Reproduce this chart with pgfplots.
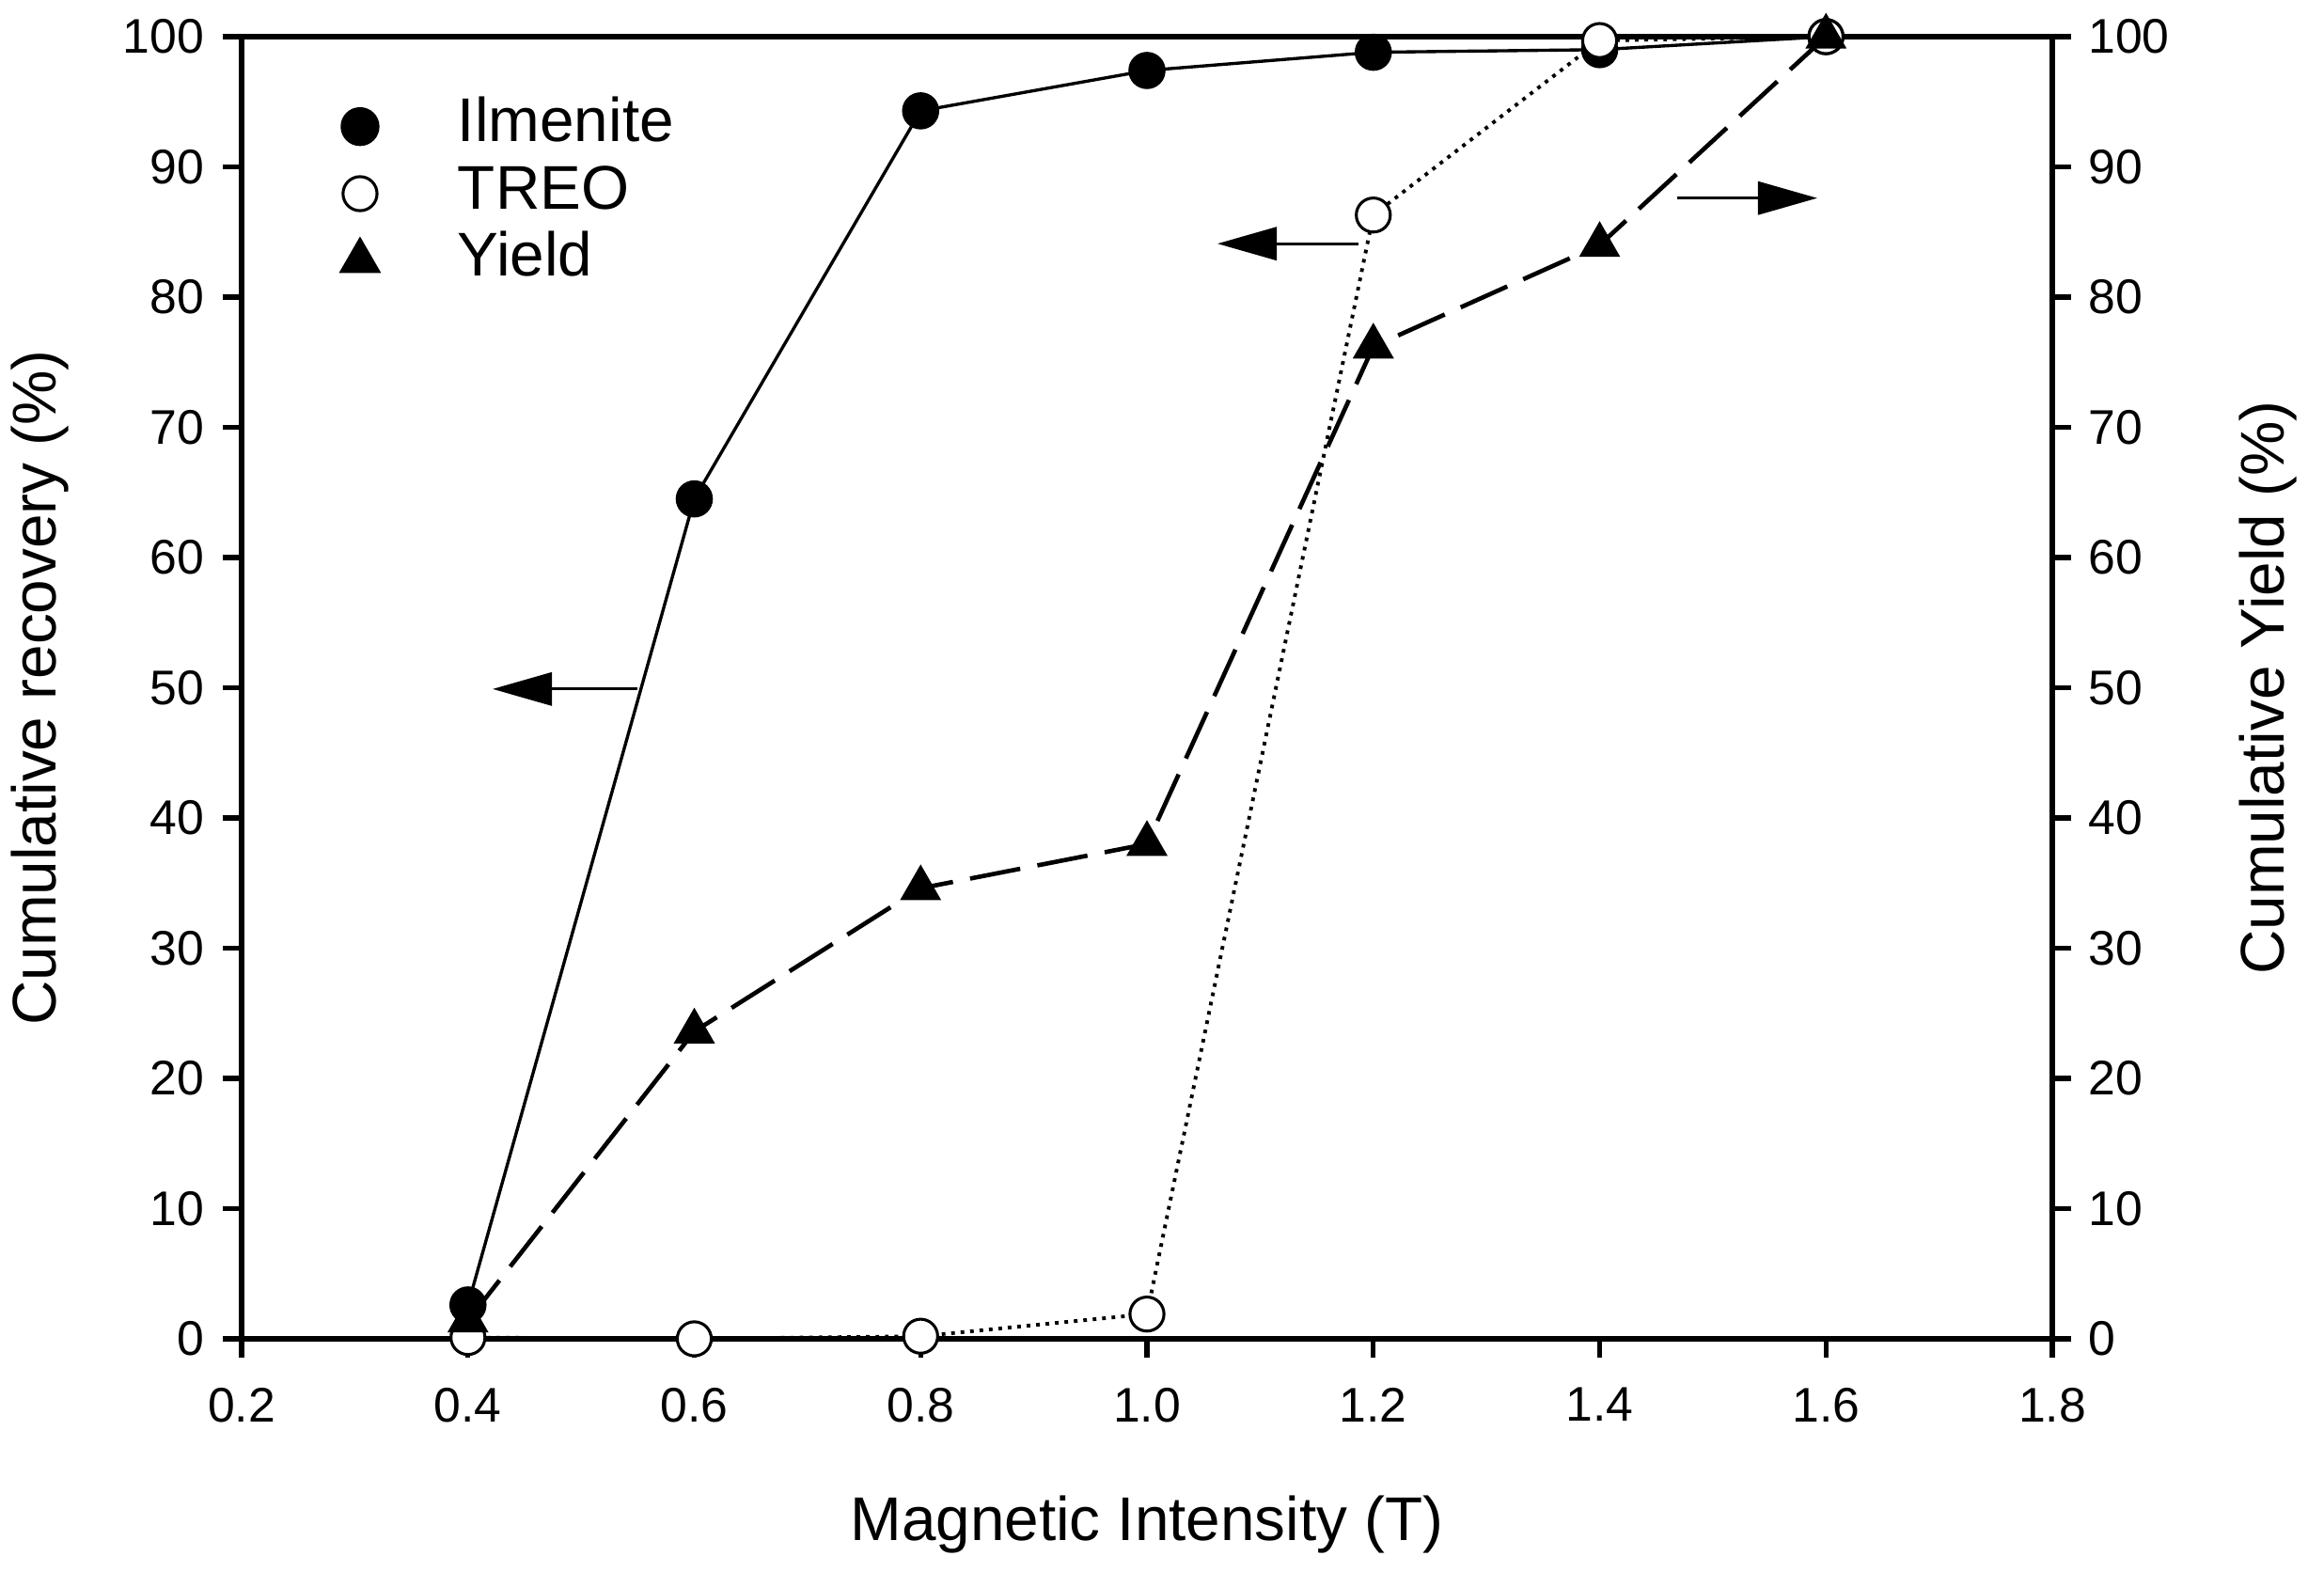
\documentclass[border=0pt]{standalone}
\usepackage{fontspec}
\setmainfont{Liberation Sans}
\usepackage{pgfplots}
\pgfplotsset{compat=1.18}
\usetikzlibrary{arrows.meta}

\newcommand{\labfont}{\fontsize{12.7}{15}\selectfont}
\pgfplotsset{
  common/.style={
    width=372.5pt, height=267.87pt, scale only axis,
    xmin=0.2, xmax=1.8, ymin=0, ymax=100,
    clip=false,
    tick align=outside,
    major tick length=3.9pt,
    every tick/.style={black, line width=1pt},
    axis line style={line width=1pt},
    /pgf/number format/assume math mode=true,
    tick label style={font=\fontsize{10}{12}\selectfont},
    ytick={0,10,...,100},
  },
}

\begin{document}
\begin{tikzpicture}
\begin{axis}[common,
  line width=1pt,
  xtick={0.2,0.4,...,1.8},
  xtick pos=bottom, ytick pos=left,
  xticklabel style={yshift=-2.4pt, /pgf/number format/.cd, fixed, fixed zerofill, precision=1},
  xlabel={Magnetic Intensity (T)},
  ylabel={Cumulative recovery (\%)},
  every axis x label/.style={at={(axis description cs:0.5,-0.1552)}, anchor=base, font=\labfont},
  every axis y label/.style={at={(axis description cs:-0.1023,0.5)}, anchor=base, rotate=90, font=\labfont},
  legend style={draw=none, fill=none, at={(axis description cs:0.0466,0.966)}, anchor=north west,
    font=\labfont,
    nodes={inner sep=0pt, text height=10pt, text depth=3.8pt},
    row sep=0pt, column sep=16.6pt},
  legend cell align=left,
]
\addlegendimage{only marks, black, mark=*, mark size=3.5pt, mark options={fill=black}}
\addlegendentry{Ilmenite}
\addlegendimage{only marks, black, mark=*, mark size=3.5pt, mark options={fill=white, line width=0.6pt}}
\addlegendentry{TREO}
\addlegendimage{only marks, black, mark=triangle*, mark size=4pt, mark options={fill=black}}
\addlegendentry{Yield}
\addplot[forget plot, black, line width=0.65pt, mark=*, mark size=3.5pt, mark options={solid, fill=black}]
  coordinates {(0.4,2.6) (0.6,64.5) (0.8,94.3) (1.0,97.4) (1.2,98.8) (1.4,99.0) (1.6,100)};
\addplot[forget plot, black, line width=0.75pt, dash pattern=on 0.75pt off 1.2pt, mark=*, mark size=3.5pt, mark options={solid, fill=white, line width=0.6pt}]
  coordinates {(0.4,0.1) (0.6,0.0) (0.8,0.2) (1.0,1.9) (1.2,86.3) (1.4,99.7) (1.6,100)};
\draw[line width=0.6pt, -{Triangle[length=12.2pt,width=6.8pt]}] (axis cs:0.5497,49.9) -- (axis cs:0.4218,49.9);
\draw[line width=0.6pt, -{Triangle[length=12.2pt,width=6.8pt]}] (axis cs:1.1869,84.1) -- (axis cs:1.0623,84.1);
\draw[line width=0.6pt, -{Triangle[length=12.2pt,width=6.8pt]}] (axis cs:1.4685,87.6) -- (axis cs:1.5923,87.6);
\end{axis}
\begin{axis}[common,
  axis x line=none, axis y line*=right, ytick pos=right,
  ylabel={Cumulative Yield (\%)},
  every axis y label/.style={at={(axis description cs:1.1282,0.5)}, anchor=base, rotate=90, font=\labfont},
]
\addplot[black, line width=0.9pt, dash pattern=on 10.5pt off 3.6pt, mark=triangle*, mark size=4pt, mark options={solid, fill=black}]
  coordinates {(0.4,1.4) (0.6,23.6) (0.8,34.6) (1.0,38.0) (1.2,76.2) (1.4,84.0) (1.6,100)};
\end{axis}
\pgfresetboundingbox
\path[use as bounding box] (-49.71pt,-47.97pt) rectangle (428.4pt,275.41pt);
\end{tikzpicture}
\end{document}
